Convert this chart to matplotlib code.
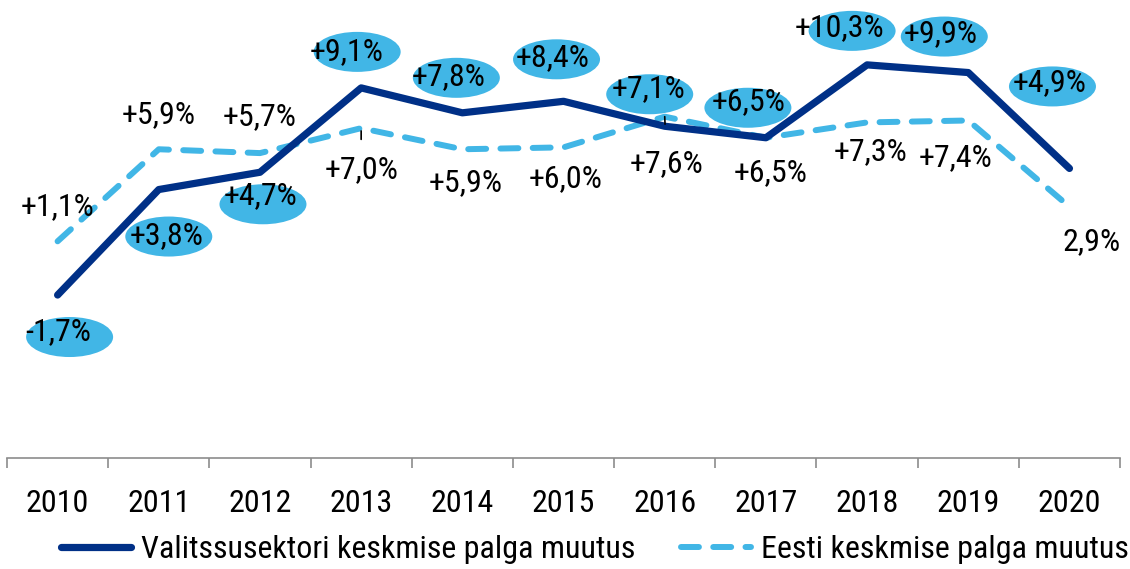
import matplotlib
matplotlib.use("Agg")
import matplotlib.pyplot as plt
import matplotlib.transforms as mtransforms
from matplotlib.patches import Ellipse
from matplotlib import font_manager

# Data
years = [2010, 2011, 2012, 2013, 2014, 2015, 2016, 2017, 2018, 2019, 2020]
gov_change = [-1.7, 3.8, 4.7, 9.1, 7.8, 8.4, 7.1, 6.5, 10.3, 9.9, 4.9]
est_change = [1.1, 5.9, 5.7, 7.0, 5.9, 6.0, 7.6, 6.5, 7.3, 7.4, 2.9]
gov_name = "Valitssusektori keskmise palga muutus"
est_name = "Eesti keskmise palga muutus"

# Look for a condensed font file, otherwise plain Roboto
def find_condensed():
    entries = font_manager.fontManager.ttflist
    def regular(f):
        return f.style == "normal" and f.weight in (400, "normal", "regular", "book")
    for want in ["Roboto Condensed", "Liberation Sans Narrow", "DejaVu Sans Condensed"]:
        for f in entries:
            if f.name == want and regular(f):
                return f.fname
    for f in entries:
        if f.stretch == "condensed" and regular(f) and f.name in ("Noto Sans", "Open Sans", "Roboto", "Inter", "DejaVu Sans"):
            return f.fname
    for f in entries:
        if ("Narrow" in f.name or "Condensed" in f.name) and regular(f):
            return f.fname
    return None

cond = find_condensed()
if cond:
    font_manager.fontManager.addfont(cond)
    fam = font_manager.FontProperties(fname=cond).get_name()
    fs = 23
    leg_fs = 23
else:
    fam = "Roboto"
    fs = 21.5
    leg_fs = 20.5
plt.rcParams["font.family"] = [fam, "DejaVu Sans"]

navy = "#003087"
light = "#41b6e6"

fig = plt.figure(figsize=(11.3, 5.69), dpi=100)
ax = fig.add_axes([0.0062, 0.195, 0.985, 0.782])

ax.plot(years, gov_change, color=navy, lw=5.2, solid_capstyle="round",
        label=gov_name, zorder=3)
ax.plot(years, est_change, color=light, lw=4.3, dashes=(3.0, 2.4),
        dash_capstyle="round", label=est_name, zorder=2)

ax.set_xlim(2009.5, 2020.5)
ax.set_ylim(-10.2, 13)

# Label offsets in pixels (text dx, dy, ellipse dx, dy)
gov_offsets = [(1, -37, 12, -42), (8, -46, 10, -47), (1, -23, 3, -32),
               (-15, 36, -4, 36), (-14, 36, -6, 35), (-11, 44, -7, 42),
               (-16, 38, -15, 32), (-17, 36, -18, 30), (-28, 37, -15, 34),
               (-28, 39, -24, 36), (-20, 86, -17, 82)]
est_offsets = [(0, 35), (0, 35), (0, 36), (0, -41), (3, -33), (2, -31),
               (2, -47), (5, -35), (3, -29), (-13, -37), (22, -35)]

def fmt(v, plus=True):
    s = f"{v:.1f}".replace(".", ",")
    if v > 0 and plus:
        s = "+" + s
    return s + "%"

dpi = fig.dpi
for x, v, (tx, ty, ex, ey) in zip(years, gov_change, gov_offsets):
    trans = fig.dpi_scale_trans + mtransforms.ScaledTranslation(x, v, ax.transData)
    ax.add_patch(Ellipse((ex / dpi, ey / dpi), 87 / dpi, 40 / dpi,
                         transform=trans, facecolor=light, edgecolor="none",
                         zorder=4, clip_on=False))
    ax.annotate(fmt(v), (x, v), xytext=(tx, ty), textcoords="offset pixels",
                ha="center", va="center", fontsize=fs, color="black", zorder=5)

for i, (x, v, (tx, ty)) in enumerate(zip(years, est_change, est_offsets)):
    label = fmt(v, plus=(i != len(years) - 1))
    arrow = None
    if x == 2013:
        arrow = dict(arrowstyle="-", color="black", lw=1.2, shrinkA=9, shrinkB=2)
    elif x == 2016:
        arrow = dict(arrowstyle="-", color="black", lw=1.2, shrinkA=16, shrinkB=0)
    ax.annotate(label, (x, v), xytext=(tx, ty), textcoords="offset pixels",
                ha="center", va="center", fontsize=fs, color="black", zorder=5,
                arrowprops=arrow)

# Axes styling
for side in ["left", "right", "top"]:
    ax.spines[side].set_visible(False)
ax.spines["bottom"].set_color("#8c8c8c")
ax.spines["bottom"].set_linewidth(1.2)
ax.spines["bottom"].set_position(("data", -10.2))
ax.set_yticks([])

bounds = [y - 0.5 for y in years] + [years[-1] + 0.5]
ax.set_xticks(bounds)
ax.set_xticklabels([])
ax.tick_params(axis="x", which="major", length=7, width=1.2, color="#8c8c8c",
               direction="out")
ax.set_xticks(years, minor=True)
ax.set_xticklabels([str(y) for y in years], minor=True, fontsize=fs)
ax.tick_params(axis="x", which="minor", length=0, pad=22)

em = leg_fs * 100 / 72
fig.legend(loc="center", bbox_to_anchor=(595 / 1130, 1 - 550 / 569), ncol=2,
           frameon=False, fontsize=leg_fs, handlelength=70 / em,
           handletextpad=10 / em, columnspacing=46 / em, borderaxespad=0)

plt.savefig("out.png", dpi=100)
plt.close()
